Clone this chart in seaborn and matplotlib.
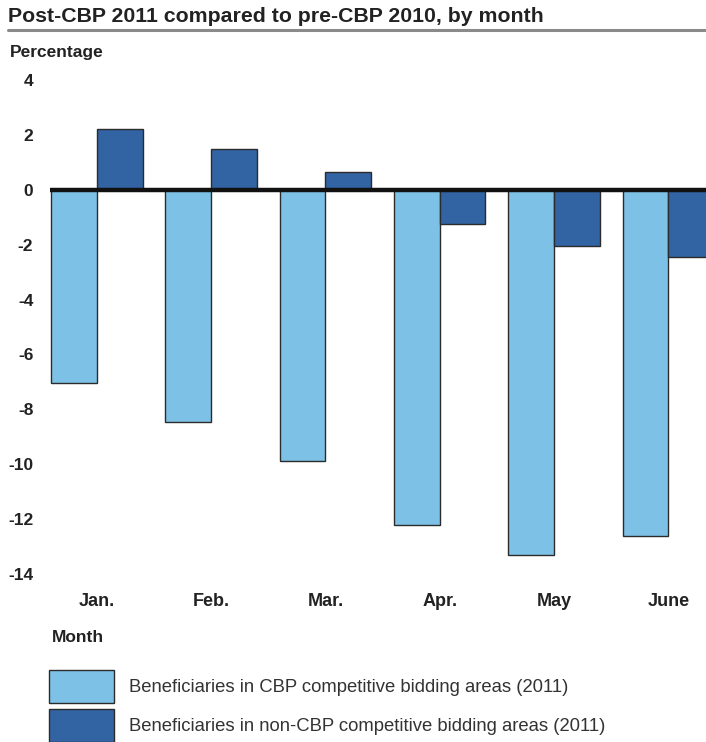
import matplotlib
matplotlib.use("Agg")
import matplotlib.pyplot as plt
from matplotlib.patches import Patch
from matplotlib.lines import Line2D
import seaborn as sns
import pandas as pd

months = ["Jan.", "Feb.", "Mar.", "Apr.", "May", "June"]
cbp_areas = [-7.05, -8.45, -9.9, -12.2, -13.3, -12.6]
non_cbp_areas = [2.2, 1.5, 0.65, -1.25, -2.05, -2.45]
series_names = [
    "Beneficiaries in CBP competitive bidding areas (2011)",
    "Beneficiaries in non-CBP competitive bidding areas (2011)",
]
y_ticks = [4, 2, 0, -2, -4, -6, -8, -10, -12, -14]

light_blue = "#7DC2E6"
dark_blue = "#3263A3"

df = pd.DataFrame({
    "Month": months * 2,
    "Value": cbp_areas + non_cbp_areas,
    "Series": [series_names[0]] * len(months) + [series_names[1]] * len(months),
})

sns.set_theme(style="white")
plt.rcParams["font.family"] = ["Liberation Sans", "DejaVu Sans"]

W, H = 706, 742
fig = plt.figure(figsize=(W / 100, H / 100), dpi=100)
# axes placed in pixel terms: left 50, right 706, top 80, bottom 574
ax = fig.add_axes([50 / W, 1 - 574 / H, 656 / W, (574 - 80) / H])

sns.barplot(
    data=df, x="Month", y="Value", hue="Series", order=months,
    hue_order=series_names, palette=[light_blue, dark_blue],
    width=0.8, gap=0, edgecolor="#2b2b2b", linewidth=1.0,
    saturation=1, legend=False, ax=ax,
)

ax.axhline(0, color="#111111", lw=3.2, zorder=5)
ax.set_xlim(-0.41, 5.33)
ax.set_ylim(-14, 4)
ax.set_yticks(y_ticks)
ax.set_yticklabels([str(t) for t in y_ticks], fontsize=12.5, fontweight="bold", color="#222222")
ax.set_xticks(range(len(months)))
ax.set_xticklabels(months, fontsize=13, fontweight="bold", color="#222222")
ax.tick_params(axis="y", length=0, pad=12)
ax.tick_params(axis="x", length=0, pad=14)
ax.set_xlabel("")
ax.set_ylabel("")
for s in ax.spines.values():
    s.set_visible(False)
ax.grid(False)

# title and rule beneath it
fig.text(8 / W, 1 - 16 / H, "Post-CBP 2011 compared to pre-CBP 2010, by month",
         fontsize=15.3, fontweight="bold", color="#222222", va="center", ha="left")
fig.add_artist(Line2D([8 / W, 1.0], [1 - 29.5 / H, 1 - 29.5 / H],
                      color="#8a8a8a", lw=2.2, transform=fig.transFigure))
fig.text(10 / W, 1 - 52 / H, "Percentage", fontsize=12.5, fontweight="bold",
         color="#222222", va="center", ha="left")

# axis title for months and legend
fig.text(52 / W, 1 - 637 / H, "Month", fontsize=12.5, fontweight="bold",
         color="#222222", va="center", ha="left")
handles = [Patch(facecolor=light_blue, edgecolor="#2b2b2b", lw=1.0),
           Patch(facecolor=dark_blue, edgecolor="#2b2b2b", lw=1.0)]
fig.legend(handles, series_names, loc="upper left",
           bbox_to_anchor=(49 / W, 1 - 670 / H), frameon=False,
           fontsize=13.3, handlelength=3.5, handleheight=2.33,
           labelspacing=0.36, handletextpad=0.85, borderpad=0,
           borderaxespad=0, labelcolor="#333333")

fig.savefig("out.png", dpi=100)
